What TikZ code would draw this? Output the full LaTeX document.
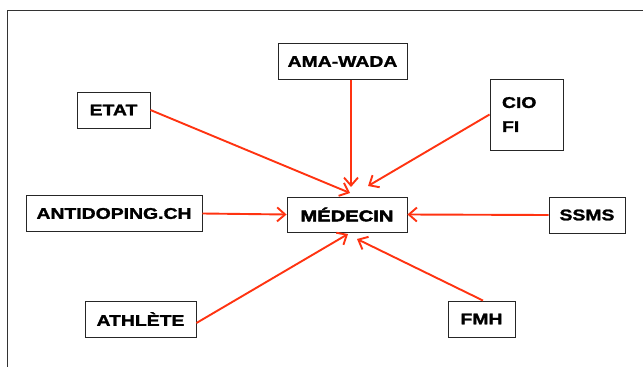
\documentclass[tikz,border=0pt]{standalone}
\usepackage{fontspec}
\newfontfamily\bxf[FakeStretch=1.25,FakeBold=1.6]{Liberation Sans Bold}
\newfontfamily\medf[FakeStretch=1.3,FakeBold=3]{Liberation Sans Bold}
\usetikzlibrary{arrows.meta}
\definecolor{arr}{RGB}{255,51,17}
\begin{document}
\begin{tikzpicture}[x=1pt,y=-1pt,
  box/.style={draw=black!85, line width=0.9pt, font=\bxf\fontsize{15.5}{24}\selectfont, inner sep=0pt, minimum height=36pt},
  con/.style={draw=arr, line width=1.9pt, -{Straight Barb[length=8pt,width=14pt,line width=1.9pt]}}]
\useasboundingbox (0,0) rectangle (643,367);
\draw[black!80, line width=0.9pt] (7.5,367) -- (7.5,10.5) -- (643,10.5);
\node[box, minimum width=73pt] (etat) at (113.5,110) {ETAT};
\node[box, minimum width=129pt] (ama) at (342.5,61.5) {AMA-WADA};
\node[box, minimum height=71pt, text width=49pt, align=left, inner xsep=12pt] (cio) at (526.5,114.5) {CIO\\FI};
\node[box, minimum width=176pt] (anti) at (114,213.5) {ANTIDOPING.CH};
\node[box, minimum width=120pt, minimum height=35pt, font=\medf\fontsize{15.5}{18}\selectfont] (med) at (347,214.5) {MÉDECIN};
\node[box, minimum width=76pt] (ssms) at (587,215) {SSMS};
\node[box, minimum width=111pt] (ath) at (140.5,319) {ATHLÈTE};
\node[box, minimum width=67pt] (fmh) at (481.5,319) {FMH};
\coordinate (tama) at (351,187);
\coordinate (tcio) at (368,186);
\coordinate (tetat) at (350,193);
\coordinate (tath) at (348,234);
\coordinate (tfmh) at (357,239);
\draw[con] (ama.south -| tama) -- (tama);
\draw[con] (cio.west) -- (tcio);
\draw[con] (etat.east) -- (tetat);
\draw[con] (anti.east) -- (med.west);
\draw[con] (ssms.west) -- (med.east);
\draw[con] ([yshift=-4pt]ath.east) -- (tath);
\draw[con] ([xshift=1.5pt]fmh.north) -- (tfmh);
\end{tikzpicture}
\end{document}
